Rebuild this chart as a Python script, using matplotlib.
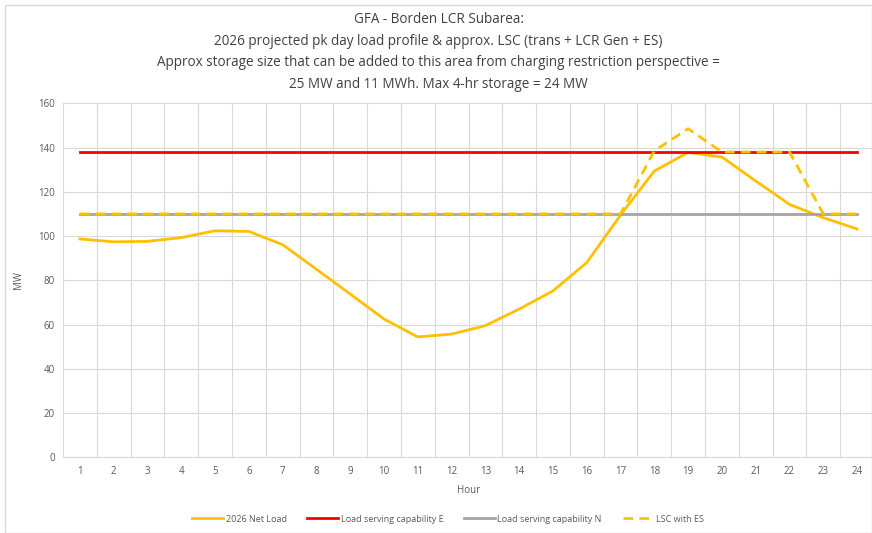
import matplotlib
matplotlib.use("Agg")
import matplotlib.pyplot as plt
from matplotlib.patches import Rectangle

hours = list(range(1, 25))
net_load = [98.7, 97.4, 97.6, 99.3, 102.4, 102.1, 96.1, 85.0, 73.8, 62.5, 54.4, 55.7,
            59.5, 67.0, 75.2, 88.0, 109.5, 129.4, 137.8, 135.7, 124.9, 114.3, 108.3, 103.2]
lsc_e = [138] * 24
lsc_n = [110] * 24
lsc_es = [110, 110, 110, 110, 110, 110, 110, 110, 110, 110, 110, 110,
          110, 110, 110, 110, 110, 138.5, 148.5, 138, 138, 138, 110, 110]
y_ticks = [0, 20, 40, 60, 80, 100, 120, 140, 160]
title = ("GFA - Borden LCR Subarea:\n"
         "2026 projected pk day load profile & approx. LSC (trans + LCR Gen + ES)\n"
         "Approx storage size that can be added to this area from charging restriction perspective =\n"
         "25 MW and 11 MWh. Max 4-hr storage = 24 MW")

plt.rcParams['font.family'] = ['Open Sans', 'DejaVu Sans']
fig = plt.figure(figsize=(8.72, 5.33), dpi=100)
W, H = 872, 533
ax = fig.add_axes([63 / W, 1 - 457.3 / H, (874 - 63) / W, (457.3 - 103.3) / H])

orange = '#FFC000'
ax.plot(hours, net_load, color=orange, lw=2.0, label='2026 Net Load', zorder=3)
ax.plot(hours, lsc_e, color='#FF0000', lw=2.0, label='Load serving capability E', zorder=3)
ax.plot(hours, lsc_n, color='#A5A5A5', lw=2.0, label='Load serving capability N', zorder=3)
ax.plot(hours, lsc_es, color=orange, lw=2.0, ls=(0, (3.5, 2.2)), label='LSC with ES', zorder=4)

ax.set_xlim(0.5, 24.5)
ax.set_ylim(0, 160)
ax.set_xticks(hours)
ax.set_xticks([h + 0.5 for h in range(0, 25)], minor=True)
ax.set_yticks(y_ticks)
ax.grid(True, which='minor', axis='x', color='#D9D9D9', lw=0.8)
ax.grid(True, which='major', axis='y', color='#D9D9D9', lw=0.8)
ax.set_axisbelow(True)
for s in ['top', 'right', 'left']:
    ax.spines[s].set_visible(False)
ax.spines['bottom'].set_color('#D9D9D9')
ax.tick_params(axis='both', which='both', length=0, labelsize=7, labelcolor='#595959', pad=6)
ax.set_xlabel('Hour', fontsize=7, color='#595959', labelpad=6)
ax.set_ylabel('MW', fontsize=7, color='#595959', labelpad=10)

fig.text(0.5 * (5 + 872) / W, 1 - 12 / H, title,
         ha='center', va='top', fontsize=9.75, color='#404040', linespacing=1.6)

leg = fig.legend(loc='center', bbox_to_anchor=(448 / W, 1 - 519 / H), ncol=4,
                 frameon=False, fontsize=6.5, handlelength=3.4, columnspacing=2.3,
                 handletextpad=0.3)
for t in leg.get_texts():
    t.set_color('#595959')

fig.patches.append(Rectangle((5 / W, 0), (W - 5) / W, 1 - 5 / H, transform=fig.transFigure,
                             fill=False, edgecolor='#D9D9D9', lw=1))

fig.savefig('out.png', dpi=100)
